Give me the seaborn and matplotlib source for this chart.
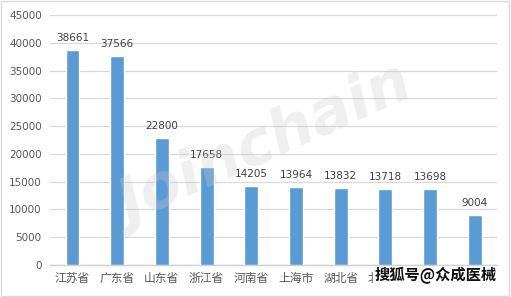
import matplotlib
matplotlib.use("Agg")
import matplotlib.pyplot as plt
import seaborn as sns
import pandas as pd
from matplotlib.patches import Rectangle

provinces = ["江苏省", "广东省", "山东省", "浙江省", "河南省", "上海市", "湖北省", "北京市", "四川省", "安徽省"]
values = [38661, 37566, 22800, 17658, 14205, 13964, 13832, 13718, 13698, 9004]
yticks = [0, 5000, 10000, 15000, 20000, 25000, 30000, 35000, 40000, 45000]
# last two labels are hidden under the watermark in the reference
shown_labels = provinces[:8] + ["", ""]

df = pd.DataFrame({"province": provinces, "value": values})

sns.set_theme(style="white")
plt.rcParams['font.family'] = ['Noto Sans CJK SC', 'DejaVu Sans']

fig = plt.figure(figsize=(5.11, 2.97), dpi=100)
ax = fig.add_axes([0.098, 0.108, 0.875, 0.841])

sns.barplot(data=df, x="province", y="value", color="#5B9BD5", width=0.31,
            saturation=1, ax=ax, zorder=3)

ax.set_ylim(0, 45000)
ax.set_yticks(yticks)
ax.set_yticklabels([str(v) for v in yticks], fontsize=7.5, color="#595959",
                   family=['DejaVu Sans'])
ax.set_xticks(range(len(provinces)))
ax.set_xticklabels(shown_labels)
ax.set_xlim(-0.5, len(provinces) - 0.5)
ax.grid(axis="y", color="#d9d9d9", linewidth=0.9, zorder=0)
ax.set_xlabel("")
ax.set_ylabel("")
for s in ["left", "right", "top"]:
    ax.spines[s].set_visible(False)
ax.spines["bottom"].set_color("#d0d0d0")
ax.spines["bottom"].set_linewidth(1.0)
ax.tick_params(axis="x", length=0, pad=5, labelsize=8.5, labelcolor="#595959")
ax.tick_params(axis="y", length=0, pad=6)

for i, v in enumerate(values):
    ax.text(i, v + 1300, str(v), ha="center", va="bottom", fontsize=7.5,
            color="#404040", family=['DejaVu Sans'], zorder=4)

# faint diagonal watermark
fig.text(0.52, 0.50, "Joinchain", fontsize=44, fontweight="bold", fontstyle="italic",
         color="#cccccc", alpha=0.30, rotation=24, ha="center", va="center",
         family=['DejaVu Sans'], zorder=5)

# bottom watermark
fig.text(0.852, 0.071, "搜狐号@众成医械", fontsize=11, color="#111111",
         ha="center", va="center", zorder=10, fontweight="bold",
         bbox=dict(facecolor="white", edgecolor="none", pad=1.0))

fig.patches.append(Rectangle((0.002, 0.003), 0.995, 0.994, transform=fig.transFigure,
                             fill=False, edgecolor="#d9d9d9", linewidth=1.0))

fig.savefig("out.png", dpi=100)
